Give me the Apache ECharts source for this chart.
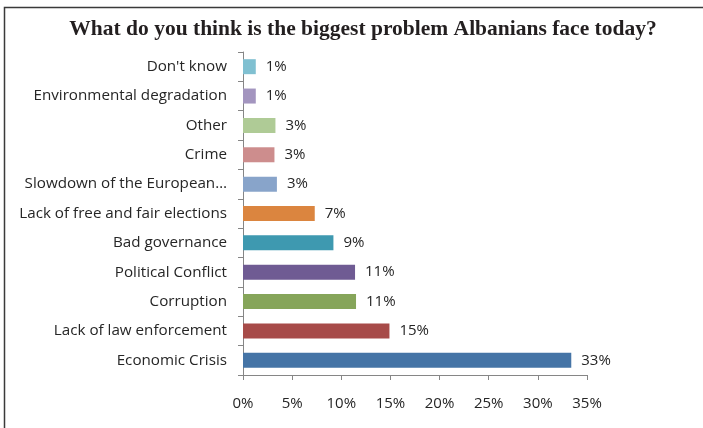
<!DOCTYPE html>
<html>
<head>
<meta charset="utf-8">
<script src="https://cdn.jsdelivr.net/npm/echarts@6/dist/echarts.min.js"></script>
<style>
html,body{margin:0;padding:0;background:#fff;}
#chart{width:703px;height:428px;}
</style>
</head>
<body>
<div id="chart"></div>
<script>
// Categories, top to bottom as shown
const categories = [
  "Don't know",
  "Environmental degradation",
  "Other",
  "Crime",
  "Slowdown of the European\u2026",
  "Lack of free and fair elections",
  "Bad governance",
  "Political Conflict",
  "Corruption",
  "Lack of law enforcement",
  "Economic Crisis"
];
// Bar lengths (%)
const values = [1.3, 1.3, 3.3, 3.2, 3.45, 7.3, 9.2, 11.4, 11.5, 14.9, 33.4];
// Printed labels
const labelTexts = ["1%", "1%", "3%", "3%", "3%", "7%", "9%", "11%", "11%", "15%", "33%"];
const barColors = ["#80c0d1", "#a395bf", "#afcb96", "#cd8d8d", "#88a4ca", "#db853f", "#3e99b0", "#6f5b93", "#86a55a", "#a74b49", "#4574a6"];
const xTicks = [0, 5, 10, 15, 20, 25, 30, 35];

const chart = echarts.init(document.getElementById('chart'), null, {renderer: 'canvas'});
const labelFont = "'Open Sans', 'Liberation Sans', sans-serif";
chart.setOption({
  animation: false,
  backgroundColor: '#fff',
  title: {
    text: 'What do you think is the biggest problem Albanians face today?',
    left: 358, top: 13, textAlign: 'center',
    textStyle: {fontFamily: "'Liberation Serif', serif", fontWeight: 'bold', fontSize: 21.5, color: '#231f20'}
  },
  graphic: [{
    type: 'rect', shape: {x: 4.5, y: 7.5, width: 800, height: 500},
    style: {fill: null, stroke: '#3a3a3a', lineWidth: 1.5}, silent: true
  }],
  grid: {left: 243, right: 116, top: 52, bottom: 53, containLabel: false},
  xAxis: {
    type: 'value', min: xTicks[0], max: xTicks[xTicks.length - 1], interval: 5,
    axisLine: {show: true, lineStyle: {color: '#868686', width: 1}},
    axisTick: {show: true, length: 5, lineStyle: {color: '#868686'}},
    splitLine: {show: false},
    axisLabel: {formatter: v => v + '%', margin: 21, fontFamily: labelFont, fontSize: 15, color: '#262626'}
  },
  yAxis: {
    type: 'category', data: categories, inverse: true,
    axisLine: {show: true, lineStyle: {color: '#868686', width: 1}},
    axisTick: {show: true, length: 5, lineStyle: {color: '#868686'}},
    axisLabel: {margin: 16, fontFamily: labelFont, fontSize: 15.2, color: '#262626'}
  },
  series: [{
    type: 'bar', barWidth: 15,
    data: values.map((v, i) => ({value: v, itemStyle: {color: barColors[i]}})),
    label: {
      show: true, position: 'right', distance: 10,
      formatter: p => labelTexts[p.dataIndex],
      fontFamily: labelFont, fontSize: 15, color: '#262626'
    }
  }]
});
</script>
</body>
</html>
